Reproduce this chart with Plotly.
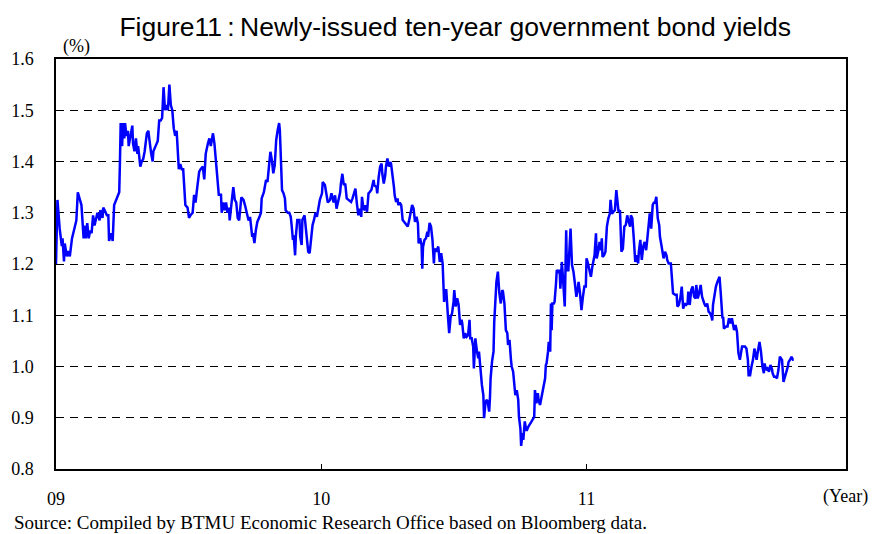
import plotly.graph_objects as go
import pandas as pd

# Days since 2009-01-01 and yields (%), in segments
days1 = [0,2,5,8,9,11,12,15,17,19,22,25,28,30,33,35,38,39,41,43,45,47,49,51,53,55,57,60,61,64,65,67,70,72,73,76,78,80,83,85,87,88,89,91,92,94,95,97,99,100,103,105,106,108,110,112,113,116,118,120,122,125,127,129]
yld1 = [1.20,1.325,1.27,1.235,1.25,1.205,1.24,1.215,1.225,1.215,1.25,1.265,1.285,1.34,1.325,1.315,1.25,1.275,1.25,1.28,1.25,1.265,1.26,1.295,1.275,1.285,1.30,1.285,1.305,1.29,1.31,1.305,1.295,1.295,1.245,1.26,1.245,1.315,1.325,1.335,1.34,1.40,1.475,1.43,1.475,1.445,1.475,1.45,1.46,1.43,1.46,1.47,1.435,1.42,1.445,1.415,1.43,1.39,1.40,1.405,1.42,1.455,1.46,1.435]

days2 = [131,133,134,137,140,142,144,146,148,150,152,154,156,158,160,162,164,166,167,169,171,173,175,177,178,181,183,185,188,190,192,194,197,199,202,204,206,209,211,213,215,216,218,220,222,224,227,228,230,232,234,236,238,239,242,244,246,248,250,252,255,258,260]
yld2 = [1.415,1.40,1.42,1.43,1.44,1.48,1.48,1.485,1.545,1.50,1.51,1.50,1.55,1.51,1.50,1.465,1.45,1.46,1.44,1.385,1.395,1.385,1.385,1.345,1.315,1.31,1.29,1.295,1.30,1.335,1.32,1.345,1.38,1.385,1.39,1.365,1.415,1.435,1.445,1.43,1.445,1.455,1.435,1.405,1.365,1.335,1.335,1.30,1.32,1.305,1.32,1.30,1.31,1.285,1.325,1.35,1.325,1.32,1.29,1.285,1.33,1.325,1.315]

days3 = [262,265,267,268,270,271,273,275,277,280,282,283,286,289,291,293,295,297,299,301,303,305,307,308,310,311,313,315,316,319,321,323,324,326,327,329,330,332,335,336,338,339,342,343,345,347,349,351,353,355,357,359,361,363,366,367,370,372,374,377,379,382,384,386,388,391]
yld3 = [1.305,1.285,1.292,1.276,1.253,1.26,1.241,1.266,1.282,1.292,1.30,1.328,1.34,1.364,1.36,1.39,1.419,1.403,1.377,1.393,1.442,1.461,1.475,1.461,1.403,1.344,1.338,1.328,1.305,1.30,1.30,1.292,1.279,1.247,1.256,1.217,1.253,1.286,1.286,1.253,1.237,1.286,1.295,1.279,1.25,1.224,1.221,1.247,1.276,1.286,1.30,1.292,1.308,1.325,1.338,1.36,1.354,1.34,1.32,1.325,1.338,1.32,1.334,1.308,1.32,1.34]

days4 = [392,394,396,398,400,403,406,408,410,412,414,416,418,420,421,423,425,426,428,430,432,434,437,438,441,442,444,446,448,449,451,453,454,456,458,460,461,463,465,466,468,470,471,473,475,477,479,482,484,486,488,490,492,494,496,498,499,501,503,504,505,507,509,511,512,514,516,518,520,521]
yld4 = [1.357,1.376,1.354,1.357,1.328,1.325,1.321,1.328,1.338,1.347,1.318,1.295,1.308,1.292,1.331,1.308,1.305,1.315,1.302,1.338,1.341,1.345,1.364,1.354,1.35,1.338,1.37,1.39,1.396,1.376,1.357,1.373,1.39,1.406,1.39,1.399,1.396,1.376,1.35,1.334,1.321,1.328,1.315,1.32,1.315,1.286,1.282,1.276,1.273,1.286,1.302,1.315,1.308,1.282,1.292,1.279,1.24,1.25,1.237,1.191,1.233,1.247,1.25,1.263,1.253,1.28,1.273,1.247,1.201,1.23]

days5 = [523,525,526,528,530,532,534,536,537,539,541,543,545,547,548,550,552,554,556,558,559,561,563,565,567,569,570,572,574,575,577,579,581,582,584,586,588,589,591,593,594,596,597,598,600,601,602,603,605,606,608,609,610,612,614,615,617,619,621,622,624,626,627,629,631,632,634,636,637,639,640,642,643,645,647,648,650,652]
yld5 = [1.224,1.234,1.234,1.204,1.221,1.201,1.126,1.149,1.149,1.104,1.065,1.097,1.104,1.126,1.149,1.117,1.133,1.12,1.081,1.091,1.084,1.055,1.065,1.058,1.061,1.091,1.055,1.055,1.039,0.996,1.055,1.032,1.016,1.029,0.987,0.964,0.944,0.899,0.931,0.935,0.931,0.912,0.935,0.977,1.01,1.029,1.029,1.087,1.143,1.165,1.185,1.156,1.143,1.123,1.149,1.146,1.123,1.071,1.065,1.042,1.052,1.013,1.0,0.99,0.954,0.944,0.954,0.935,0.902,0.879,0.845,0.87,0.857,0.893,0.876,0.876,0.883,0.889]

days6 = [654,657,658,659,661,663,664,666,668,670,673,674,675,677,678,680,681,682,683,685,686,688,689,691,693,694,696,697,698,700,701,702,703,705,707,708,710,712,714,716,718,719,721,723,725,727,729,730,732,734,736,738,740,741,743,744,746,748,750,751,752,754,756,758,760,762,763,765,767,769,771,773,774,776,778,780,782]
yld6 = [0.892,0.899,0.902,0.954,0.928,0.948,0.935,0.925,0.941,0.961,0.977,1.003,1.006,1.029,1.048,1.029,1.123,1.071,1.123,1.123,1.126,1.162,1.188,1.185,1.188,1.152,1.204,1.185,1.168,1.117,1.188,1.266,1.188,1.188,1.243,1.269,1.198,1.185,1.162,1.136,1.152,1.165,1.143,1.11,1.136,1.156,1.156,1.211,1.201,1.188,1.175,1.195,1.207,1.217,1.26,1.211,1.224,1.243,1.227,1.25,1.214,1.217,1.224,1.273,1.289,1.298,1.325,1.298,1.302,1.305,1.344,1.305,1.302,1.305,1.224,1.23,1.273]

days7 = [784,786,788,790,791,793,795,797,799,801,802,804,806,808,810,812,813,815,817,819,821,823,824,826,828,830,831,833,835,836,838,840,841,843,846,847,849,852,854,855,857,859,861,863,865,867,869,870,872,874,876,878,880,881,883,885,887,889,891,892,894,896,898,900,902,903,904,906,908,910,912,913]
yld7 = [1.276,1.295,1.282,1.273,1.295,1.289,1.25,1.204,1.217,1.201,1.224,1.247,1.208,1.234,1.243,1.227,1.24,1.269,1.299,1.269,1.315,1.321,1.318,1.331,1.289,1.276,1.253,1.237,1.224,1.211,1.224,1.217,1.208,1.201,1.201,1.175,1.143,1.14,1.14,1.117,1.12,1.133,1.156,1.113,1.123,1.12,1.123,1.146,1.12,1.149,1.156,1.136,1.133,1.159,1.133,1.143,1.159,1.136,1.123,1.123,1.117,1.123,1.107,1.104,1.097,1.09,1.12,1.143,1.156,1.165,1.172,1.175]

days8 = [915,917,918,919,922,924,926,928,930,931,933,935,937,939,941,942,944,946,948,950,952,953,955,957,959,961,963,964,966,968,970,972,974,975,977,979,981,983,985,986,988,990,992,994,996,997,999,1001,1003,1005,1007,1008,1010,1012,1014,1015]
yld8 = [1.136,1.094,1.097,1.074,1.078,1.078,1.094,1.084,1.094,1.087,1.071,1.081,1.068,1.026,1.013,1.022,1.039,1.039,1.039,1.035,1.013,0.983,0.983,1.0,1.013,1.035,1.022,1.013,1.032,1.048,1.029,1.0,0.987,1.006,0.993,0.996,0.99,1.003,0.996,0.987,0.98,0.98,0.977,0.993,1.019,1.016,1.013,0.97,0.983,0.99,1.0,1.009,1.013,1.019,1.013,1.013]

start_date = "2009-01-01"
x_tick_dates = ["2009-01-01", "2010-01-01", "2011-01-01"]
x_tick_labels = ["09", "10", "11"]
x_range = ["2009-01-01", "2011-12-24"]
y_range = [0.8, 1.6]

title_text = "Figure11\u2009:\u2009Newly-issued ten-year government bond yields"
source_text = "Source: Compiled by BTMU Economic Research Office based on Bloomberg data."

day_segs = [days1, days2, days3, days4, days5, days6, days7, days8]
yld_segs = [yld1, yld2, yld3, yld4, yld5, yld6, yld7, yld8]
for d, v in zip(day_segs, yld_segs):
    assert len(d) == len(v), (len(d), len(v))
days = sum(day_segs, [])
ylds = sum(yld_segs, [])
dates = pd.Timestamp(start_date) + pd.to_timedelta(days, unit="D")

serif = "Times New Roman, Liberation Serif, serif"
sans = "Arial, Liberation Sans, sans-serif"

fig = go.Figure(go.Scatter(x=dates, y=ylds, mode="lines",
                           line=dict(color="#0000FF", width=2.5), hoverinfo="skip"))

fig.update_layout(
    width=877, height=534,
    margin=dict(l=56, r=31, t=59, b=65, autoexpand=False),
    paper_bgcolor="white", plot_bgcolor="white",
    showlegend=False,
    title=dict(text=title_text, font=dict(family=sans, size=26.5, color="black"),
               x=0.519, xanchor="center", xref="container",
               y=1 - 27 / 534, yanchor="middle", yref="container"),
    xaxis=dict(type="date", range=x_range, tickvals=x_tick_dates, ticktext=x_tick_labels,
               ticks="inside", ticklen=5, tickcolor="black", tickwidth=1,
               showline=True, linecolor="black", linewidth=1.5, mirror=True,
               showgrid=False, zeroline=False,
               tickfont=dict(family=serif, size=18, color="black"),
               ticklabelstandoff=13),
    yaxis=dict(range=y_range, dtick=0.1, tick0=0.8, tickformat=".1f",
               showgrid=True, gridcolor="black", gridwidth=1, griddash="8px,6px",
               showline=True, linecolor="black", linewidth=1.5, mirror=True,
               ticks="", zeroline=False,
               tickfont=dict(family=serif, size=18, color="black"),
               ticklabelstandoff=17),
    annotations=[
        dict(text="(%)", xref="paper", yref="paper", x=(76 - 56) / 790, y=(469 - 46) / 410.3,
             xanchor="center", yanchor="middle", showarrow=False,
             font=dict(family=serif, size=18, color="black")),
        dict(text="(Year)", xref="paper", yref="paper", x=(845 - 56) / 790, y=(469 - 497) / 410.3,
             xanchor="center", yanchor="middle", showarrow=False,
             font=dict(family=serif, size=18, color="black")),
        dict(text=source_text, xref="paper", yref="paper", x=(12 - 56) / 790, y=(469 - 523) / 410.3,
             xanchor="left", yanchor="middle", showarrow=False,
             font=dict(family=serif, size=19, color="black")),
    ],
)

fig.write_html("out.html",
               config={"displayModeBar": False},
               post_script="document.body.style.margin='0';document.body.style.padding='0';"
                           "document.documentElement.style.overflow='hidden';")
